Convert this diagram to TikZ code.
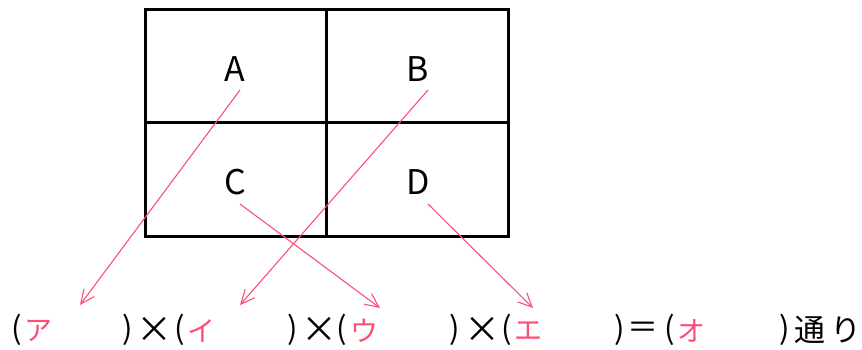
\documentclass[tikz,border=0pt]{standalone}
\usepackage{fontspec}
\setmainfont{Noto Sans CJK JP}
\usetikzlibrary{arrows.meta}
\definecolor{pinkc}{RGB}{250,80,120}
\tikzset{
  gridline/.style={line width=3pt, black},
  pk/.style={pinkc, line width=1.1pt, -{Straight Barb[length=14pt,width=13pt,line width=1.1pt]}},
  cell/.style={font=\fontsize{34}{36}\selectfont, inner sep=0pt},
  bl/.style={font=\fontsize{31}{33}\selectfont, inner sep=0pt, anchor=center},
  mul/.style={font=\fontsize{36}{38}\selectfont, inner sep=0pt, anchor=center},
  kt/.style={font=\fontsize{28}{30}\selectfont, inner sep=0pt, text=pinkc, anchor=center}
}
\begin{document}
\begin{tikzpicture}[x=1pt,y=-1pt]
\useasboundingbox (0,0) rectangle (862,349);
\draw[gridline] (145,9) rectangle (508,236);
\draw[gridline] (326,9) -- (326,236);
\draw[gridline] (145,122) -- (508,122);
\node[cell] (A) at (235,69) {A};
\node[cell] (B) at (418,69) {B};
\node[cell] (C) at (235,182) {C};
\node[cell] (D) at (418,182) {D};
% bottom text
\node[bl] (p1) at (17,330) {(};
\node[kt] (ka) at (38,331) {\char"30A2};
\node[bl] (p2) at (128,330) {)};
\node[mul] (x1) at (154,330) {×};
\node[bl] (p3) at (180,330) {(};
\node[kt] (ki) at (201,331) {\char"30A4};
\node[bl] (p4) at (293,330) {)};
\node[mul] (x2) at (319,330) {×};
\node[bl] (p5) at (342,330) {(};
\node[kt] (ku) at (364,331) {\char"30A6};
\node[bl] (p6) at (455,330) {)};
\node[mul] (x3) at (482,330) {×};
\node[bl] (p7) at (507,330) {(};
\node[kt] (ke) at (528,331) {\char"30A8};
\node[bl] (p8) at (620,330) {)};
\node[bl] (eq) at (643,330) {＝};
\node[bl] (p9) at (670,330) {(};
\node[kt] (ko) at (691,331) {\char"30AA};
\node[bl] (p10) at (785,330) {)};
\node[bl] (to) at (810,330) {通};
\node[bl] (ri) at (846,330) {り};
% arrow endpoints
\coordinate (sA) at (240,90);
\coordinate (eA) at (80,305);
\coordinate (sB) at (428,90);
\coordinate (eB) at (240,305);
\coordinate (sC) at (240,204);
\coordinate (eC) at (380,308);
\coordinate (sD) at (428,204);
\coordinate (eD) at (533,308);
\draw[pk] (sA) -- (eA);
\draw[pk] (sB) -- (eB);
\draw[pk] (sC) -- (eC);
\draw[pk] (sD) -- (eD);
\end{tikzpicture}
\end{document}
